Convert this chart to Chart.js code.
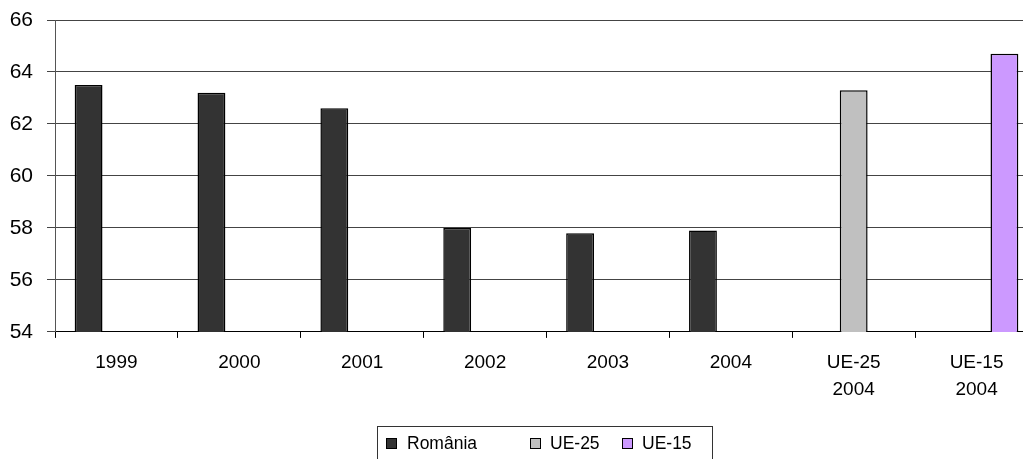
<!DOCTYPE html>
<html>
<head>
<meta charset="utf-8">
<script src="https://cdn.jsdelivr.net/npm/chart.js@4/dist/chart.umd.min.js"></script>
<style>
    html, body { margin: 0; padding: 0; background: #fff; overflow: hidden; }
    #wrap { width: 1040px; height: 459px; }
</style>
</head>
<body>
<div id="wrap"><canvas id="rateChart"></canvas></div>
<script>
// Values
const categories = ['1999', '2000', '2001', '2002', '2003', '2004', ['UE-25', '2004'], ['UE-15', '2004']];
const romaniaValues = [63.5, 63.2, 62.6, 58.0, 57.8, 57.9, null, null];
const ue25Values = [null, null, null, null, null, null, 63.3, null];
const ue15Values = [null, null, null, null, null, null, null, 64.7];
const yMin = 54, yMax = 66, yStep = 2;

// Excel-style legend with a frame, partly cut by the bottom edge
const legendBox = {
    id: 'legendBox',
    afterDraw(chart) {
        const ctx = chart.ctx;
        ctx.save();
        ctx.strokeStyle = '#333';
        ctx.lineWidth = 1;
        ctx.strokeRect(377.5, 426.5, 335, 60);

        const slots = [[386, 407], [530, 550], [622, 642]];
        const y = 443;
        ctx.font = '17.5px "Liberation Sans", Arial, sans-serif';
        ctx.textBaseline = 'middle';
        ctx.textAlign = 'left';
        chart.data.datasets.forEach((ds, i) => {
            const [bx, tx] = slots[i];
            ctx.fillStyle = ds.backgroundColor;
            ctx.fillRect(bx, y - 5, 10, 10);
            ctx.strokeStyle = '#000';
            ctx.strokeRect(bx + 0.5, y - 5 + 0.5, 10, 10);
            ctx.fillStyle = '#000';
            ctx.fillText(ds.label, tx, y + 1);
        });
        ctx.restore();
    }
};

const ctx = document.getElementById('rateChart').getContext('2d');

new Chart(ctx, {
    type: 'bar',
    data: {
        labels: categories,
        datasets: [
            { label: 'România', data: romaniaValues, backgroundColor: '#333333' },
            { label: 'UE-25', data: ue25Values, backgroundColor: '#c0c0c0' },
            { label: 'UE-15', data: ue15Values, backgroundColor: '#cc99ff' }
        ]
    },
    options: {
        responsive: true,
        maintainAspectRatio: false,
        animation: false,
        layout: { padding: { top: 20, left: 0, right: 2, bottom: 44 } },
        datasets: {
            bar: {
                borderColor: '#000',
                borderWidth: 1.5,
                categoryPercentage: 0.68,
                barPercentage: 1.0
            }
        },
        plugins: {
            legend: { display: false },
            tooltip: { enabled: false }
        },
        scales: {
            x: {
                grid: { drawOnChartArea: false, tickLength: 6, color: '#000' },
                border: { color: '#000', width: 1 },
                ticks: {
                    color: '#000',
                    padding: 11,
                    font: { family: '"Liberation Sans", Arial, sans-serif', size: 19, lineHeight: 1.45 }
                }
            },
            y: {
                min: yMin,
                max: yMax,
                afterFit(scale) {
                    scale.width = 55;
                    scale.paddingTop = 0;
                    scale.paddingBottom = 0;
                },
                grid: { color: '#444', lineWidth: 1, tickLength: 8 },
                border: { color: '#555', width: 1 },
                ticks: {
                    stepSize: yStep,
                    color: '#000',
                    padding: 14,
                    font: { family: '"Liberation Sans", Arial, sans-serif', size: 21 }
                }
            }
        }
    },
    plugins: [legendBox]
});
</script>
</body>
</html>
